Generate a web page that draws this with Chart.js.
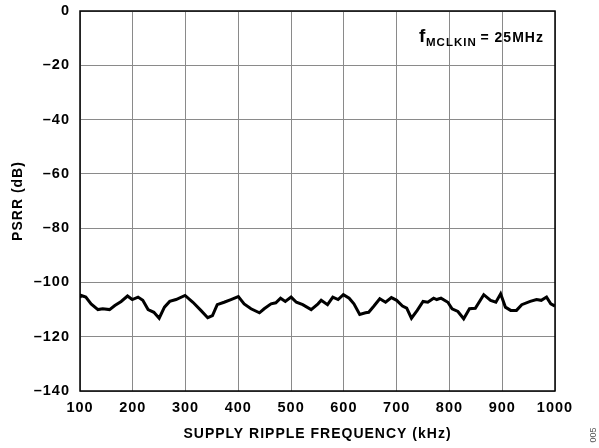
<!DOCTYPE html>
<html>
<head>
<meta charset="utf-8">
<script src="https://cdn.jsdelivr.net/npm/chart.js@4/dist/chart.umd.min.js"></script>
<style>
  html, body { margin: 0; padding: 0; background: #fff; }
  #psrr-chart { display: block; }
</style>
</head>
<body>
<canvas id="psrr-chart" width="599" height="448"></canvas>
<script>
// supply ripple frequency (kHz) and measured PSRR (dB)
const freqKHz = [100, 102, 111, 121, 134, 143, 156, 166, 178, 190, 199, 210, 219, 229, 240, 250,
    260, 270, 282, 299, 314, 329, 342, 351, 360, 373, 386, 400, 411, 424, 440, 449, 462, 471,
    480, 489, 500, 510, 522, 538, 551, 557, 569, 579, 589, 599, 610, 619, 630, 641, 647, 657,
    668, 679, 690, 700, 711, 719, 728, 739, 750, 759, 770, 776, 784, 797, 805, 816, 827, 838,
    849, 865, 878, 888, 897, 906, 916, 927, 937, 953, 965, 974, 984, 992, 1000];
const psrrDb = [-105.6, -104.8, -105.4, -107.9, -110.0, -109.7, -110.0, -108.5, -107.0, -105.0,
    -106.3, -105.4, -106.6, -110.0, -111.0, -113.2, -109.1, -107.0, -106.3, -104.8, -107.3,
    -110.3, -113.0, -112.2, -108.2, -107.3, -106.3, -105.2, -107.9, -109.7, -111.2, -109.7,
    -107.9, -107.5, -105.8, -107.0, -105.4, -107.3, -108.2, -110.0, -107.9, -106.6, -108.2,
    -105.4, -106.3, -104.5, -105.8, -107.9, -111.8, -111.2, -111.0, -108.7, -106.0, -107.3,
    -105.6, -106.6, -108.7, -109.5, -113.2, -110.3, -107.0, -107.3, -105.8, -106.3, -105.8,
    -107.3, -109.7, -110.7, -113.4, -109.7, -109.5, -104.5, -106.6, -107.3, -104.2, -109.1,
    -110.3, -110.3, -108.2, -107.0, -106.3, -106.6, -105.4, -107.9, -108.7];

const xTicks = [100, 200, 300, 400, 500, 600, 700, 800, 900, 1000];
const yTicks = [0, -20, -40, -60, -80, -100, -120, -140];

const tickFont = { family: 'Liberation Sans, Arial, sans-serif', size: 14.5, weight: 'bold' };
const titleFont = { family: 'Liberation Sans, Arial, sans-serif', size: 14, weight: 'bold' };

// black frame round the plot and the text labels on top of it
const framePlugin = {
    id: 'frame',
    beforeDraw(chart) {
        // slightly wider lettering for all chart text
        chart.ctx.letterSpacing = '1px';
    },
    beforeDatasetsDraw(chart) {
        const a = chart.chartArea;
        const ctx = chart.ctx;
        ctx.save();
        ctx.strokeStyle = '#000';
        ctx.lineWidth = 1.5;
        ctx.strokeRect(a.left, a.top, a.right - a.left, a.bottom - a.top);
        ctx.restore();
    },
    afterDraw(chart) {
        const ctx = chart.ctx;
        ctx.save();
        ctx.fillStyle = '#000';
        ctx.textBaseline = 'alphabetic';
        ctx.textAlign = 'left';
        ctx.letterSpacing = '1px';
        // f with MCLKIN subscript
        ctx.font = 'bold 19px Liberation Sans, Arial, sans-serif';
        ctx.fillText('f', 419, 42);
        ctx.font = 'bold 11.5px Liberation Sans, Arial, sans-serif';
        ctx.fillText('MCLKIN', 426, 46);
        ctx.font = 'bold 14px Liberation Sans, Arial, sans-serif';
        ctx.fillText('= 25MHz', 480.5, 42);

        // figure number on the right edge
        ctx.letterSpacing = '0px';
        ctx.translate(596, 435);
        ctx.rotate(-Math.PI / 2);
        ctx.font = '9px Liberation Sans, Arial, sans-serif';
        ctx.fillStyle = '#555';
        ctx.textAlign = 'center';
        ctx.fillText('005', 0, 0);
        ctx.restore();
    }
};

new Chart(document.getElementById('psrr-chart'), {
    type: 'line',
    data: {
        datasets: [{
            data: freqKHz.map((f, i) => ({ x: f, y: psrrDb[i] })),
            borderColor: '#000',
            borderWidth: 3,
            pointRadius: 0,
            tension: 0,
            fill: false
        }]
    },
    options: {
        responsive: false,
        animation: false,
        devicePixelRatio: 1,
        layout: { padding: { left: 0, right: 44, top: 11, bottom: 0 } },
        plugins: {
            legend: { display: false },
            tooltip: { enabled: false }
        },
        scales: {
            x: {
                type: 'linear',
                min: 100,
                max: 1000,
                afterBuildTicks(scale) { scale.ticks = xTicks.map(v => ({ value: v })); },
                afterFit(scale) {
                    scale.height = 57;
                    scale.paddingLeft = 0;
                    scale.paddingRight = 0;
                },
                ticks: { color: '#000', font: tickFont, padding: 8, maxRotation: 0, callback: v => String(v) },
                grid: { color: '#8a8a8a', lineWidth: 1, drawTicks: false },
                border: { display: false },
                title: {
                    display: true,
                    text: 'SUPPLY RIPPLE FREQUENCY (kHz)',
                    color: '#000',
                    font: titleFont,
                    padding: { top: 9, bottom: 5 }
                }
            },
            y: {
                type: 'linear',
                min: -140,
                max: 0,
                afterBuildTicks(scale) { scale.ticks = yTicks.map(v => ({ value: v })); },
                afterFit(scale) {
                    scale.width = 80;
                    scale.paddingTop = 0;
                    scale.paddingBottom = 0;
                },
                ticks: {
                    color: '#000',
                    font: tickFont,
                    padding: 10,
                    callback: v => (v < 0 ? '\u2013' + Math.abs(v) : String(v))
                },
                grid: { color: '#8a8a8a', lineWidth: 1, drawTicks: false },
                border: { display: false },
                title: {
                    display: true,
                    text: 'PSRR (dB)',
                    color: '#000',
                    font: titleFont,
                    padding: { top: 10, bottom: 0 }
                }
            }
        }
    },
    plugins: [framePlugin]
});
</script>
</body>
</html>
